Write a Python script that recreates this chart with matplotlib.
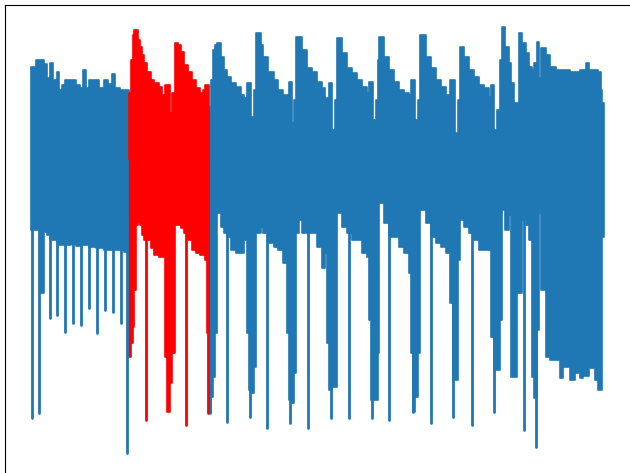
import numpy as np
import matplotlib
matplotlib.use("Agg")
import matplotlib.pyplot as plt

# signal: per sample position the upper and lower envelope
# of the dense trace, plus the narrow downward spikes

# blue part before the red window
b1_x = [31, 36, 40, 44, 47, 50, 53, 57, 59, 62, 65, 71, 76, 80, 83, 86, 89, 96,
        99, 104, 108, 112, 115, 120, 124, 129]
b1_hi = [93, 100, 100, 96, 82, 97, 80, 88, 70, 75, 80, 80, 75, 72, 90, 72, 80, 80,
         72, 80, 76, 86, 72, 70, 70, 68]
b1_lo = [-70, -70, -133, -72, -75, -80, -80, -82, -85, -85, -85, -84, -86, -85, -85,
         -85, -87, -88, -88, -90, -90, -90, -90, -90, -92, -92]
b1_spike_x = [32, 39, 50, 57, 65, 73, 81, 89, 97, 105, 113, 121, 127]
b1_spike_y = [-258, -253, -158, -155, -172, -163, -165, -148, -173, -150, -152, -163, -293]

# red window
r_x = [129, 131, 133, 134, 136, 138, 140, 142, 144, 147, 151, 154, 159, 162, 165,
       167, 170, 172, 175, 178, 181, 184, 188, 192, 196, 200, 203, 205, 207, 209]
r_hi = [67, 100, 125, 130, 130, 120, 113, 105, 97, 88, 80, 77, 73, 65, 75,
        75, 47, 67, 117, 115, 108, 95, 88, 80, 72, 67, 70, 75, 75, 75]
r_lo = [-197, -183, -167, -130, -65, -62, -65, -75, -80, -80, -88, -95, -97, -97, -197,
        -252, -223, -193, -65, -65, -68, -73, -80, -90, -93, -95, -95, -100, -173, -173]
r_spike_x = [146, 186, 208]
r_spike_y = [-260, -265, -253]

# blue part after the red window
b2_x = [209, 211, 213, 215, 217, 221, 224, 227, 231, 236, 241, 244, 247, 249, 251, 254,
        256, 261, 263, 268, 274, 278, 283, 287, 289, 292, 294,
        296, 299, 302, 307, 312, 317, 322, 325, 327, 329, 332, 335,
        337, 342, 347, 352, 357, 362, 367, 369, 371, 373, 376, 378,
        379, 384, 389, 394, 399, 404, 409, 411, 413, 415, 418,
        420, 426, 431, 436, 441, 446, 450, 453, 455, 458,
        460, 464, 469, 474, 479, 484, 489, 491, 494, 497, 500,
        502, 505, 509, 511, 514, 517, 519, 522, 526, 529, 532, 534, 537, 539, 541,
        546, 550, 556, 560, 563, 570, 575, 580, 583, 586, 589, 595, 598, 601, 602, 604]
b2_hi = [53, 80, 110, 115, 117, 103, 90, 83, 77, 73, 65, 62, 77, 77, 43, 70,
         127, 115, 103, 88, 80, 70, 65, 65, 78, 37, 60,
         123, 123, 110, 92, 88, 78, 72, 62, 62, 77, 30, 60,
         122, 107, 92, 87, 80, 73, 67, 78, 78, 40, 60, 100,
         123, 103, 90, 78, 70, 67, 65, 80, 80, 40, 60,
         125, 103, 92, 80, 73, 65, 80, 80, 27, 60,
         113, 103, 90, 83, 75, 72, 63, 75, 30, 50, 100,
         133, 113, 97, 77, 57, 57, 127, 117, 107, 93, 90, 97, 118, 82, 112,
         105, 93, 90, 90, 90, 88, 88, 90, 90, 97, 90, 90, 88, 70, 57, 57]
b2_lo = [-253, -237, -217, -173, -53, -67, -73, -77, -90, -93, -93, -80, -173, -230, -233, -207,
         -73, -67, -73, -83, -87, -90, -103, -173, -240, -243, -213,
         -73, -60, -73, -73, -73, -87, -108, -93, -183, -230, -227, -227,
         -53, -67, -73, -80, -80, -93, -97, -160, -240, -240, -240, -193,
         -43, -63, -77, -77, -87, -93, -113, -193, -252, -237, -193,
         -50, -63, -77, -83, -87, -93, -143, -220, -220, -100,
         -60, -67, -73, -80, -90, -90, -90, -177, -210, -210, -160,
         -50, -70, -55, -217, -217, -133, -133, -60, -65, -80, -217, -238, -170, -53, -130,
         -197, -200, -200, -218, -207, -220, -213, -218, -216, -216, -208, -220, -230, -230, -77, -77]
b2_spike_x = [210, 227, 250, 267, 290, 308, 331, 349, 372, 389, 413, 431, 453, 472, 494, 524, 536]
b2_spike_y = [-253, -262, -257, -268, -263, -268, -258, -258, -258, -260, -252, -263, -257,
              -265, -252, -270, -287]

blue = '#1f77b4'
red = 'red'

fig = plt.figure(figsize=(6.3, 4.73), dpi=100)
ax = fig.add_axes([5 / 630, -10 / 473, 1.0, 478 / 473])

for xs, hi, lo, c in [(b1_x, b1_hi, b1_lo, blue), (b2_x, b2_hi, b2_lo, blue), (r_x, r_hi, r_lo, red)]:
    ax.fill_between(xs, lo, hi, step='post', color=c, edgecolor=c,
                    linewidth=1.2, joinstyle='round')

for sx, sy, c in [(b1_spike_x, b1_spike_y, blue), (b2_spike_x, b2_spike_y, blue), (r_spike_x, r_spike_y, red)]:
    ax.vlines(sx, sy, 0, color=c, linewidth=2.0, capstyle='round')

ax.set_xlim(5, 635)
ax.set_ylim(-323, 155)
ax.set_xticks([])
ax.set_yticks([])

fig.savefig('out.png', dpi=100)
